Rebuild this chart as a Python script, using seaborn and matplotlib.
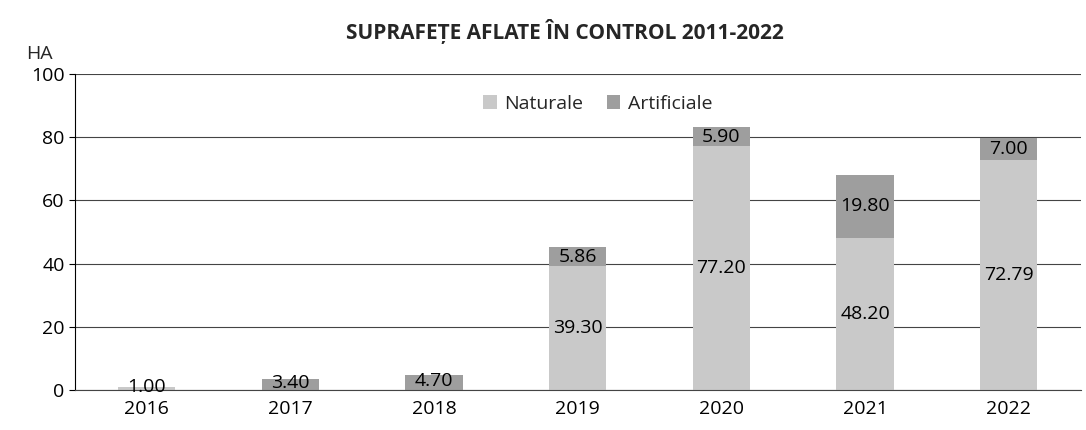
import numpy as np
import pandas as pd
import seaborn as sns
import matplotlib.pyplot as plt

# date
ani = ['2016', '2017', '2018', '2019', '2020', '2021', '2022']
naturale = [1.00, 0, 0, 39.30, 77.20, 48.20, 72.79]
artificiale = [0, 3.40, 4.70, 5.86, 5.90, 19.80, 7.00]

df = pd.DataFrame({'An': ani, 'Naturale': naturale, 'Artificiale': artificiale})

sns.set_style('white')
plt.rcParams['font.family'] = ['Open Sans', 'DejaVu Sans']

fig, ax = plt.subplots(figsize=(10.86, 4.30), dpi=100)
fig.subplots_adjust(left=0.069, right=0.995, top=0.828, bottom=0.093)

c_nat = '#c9c9c9'
c_art = '#9e9e9e'

sns.barplot(data=df, x='An', y='Naturale', color=c_nat, width=0.4, linewidth=0,
            ax=ax, label='Naturale', zorder=2)
sns.barplot(data=df, x='An', y='Artificiale', color=c_art, width=0.4, linewidth=0,
            bottom=df['Naturale'], ax=ax, label='Artificiale', zorder=2)

# etichete in mijlocul fiecarui segment
for i in range(len(ani)):
    n = naturale[i]
    a = artificiale[i]
    if n > 0:
        ax.text(i, n / 2 if n > 5 else n / 2 + 0.6, f'{n:.2f}', ha='center', va='center',
                fontsize=14, color='black', zorder=3)
    if a > 0:
        ax.text(i, n + a / 2 if a > 5 else n + a / 2 + 0.4, f'{a:.2f}', ha='center',
                va='center', fontsize=14, color='black', zorder=3)

ax.set_ylim(0, 100)
ax.set_yticks(range(0, 101, 20))
ax.yaxis.grid(True, color='#444444', linewidth=0.8)
ax.set_axisbelow(True)
ax.set_xlabel('')
ax.set_ylabel('')
for s in ['top', 'right']:
    ax.spines[s].set_visible(False)
ax.spines['left'].set_color('black')
ax.spines['bottom'].set_color('#444444')
ax.tick_params(axis='both', labelsize=14, colors='black', length=4)
ax.tick_params(axis='y', left=True)

ax.text(-0.035, 1.035, 'HA', transform=ax.transAxes, fontsize=14, ha='center', va='bottom')

fig.suptitle('SUPRAFEȚE AFLATE ÎN CONTROL 2011-2022', fontsize=15, fontweight='bold',
             x=0.52, y=0.955)

ax.legend(loc='upper center', bbox_to_anchor=(0.52, 0.99), ncol=2, frameon=False,
          fontsize=14, handlelength=0.7, handleheight=0.7, columnspacing=1.2,
          handletextpad=0.4)

plt.savefig('out.png', dpi=100)
